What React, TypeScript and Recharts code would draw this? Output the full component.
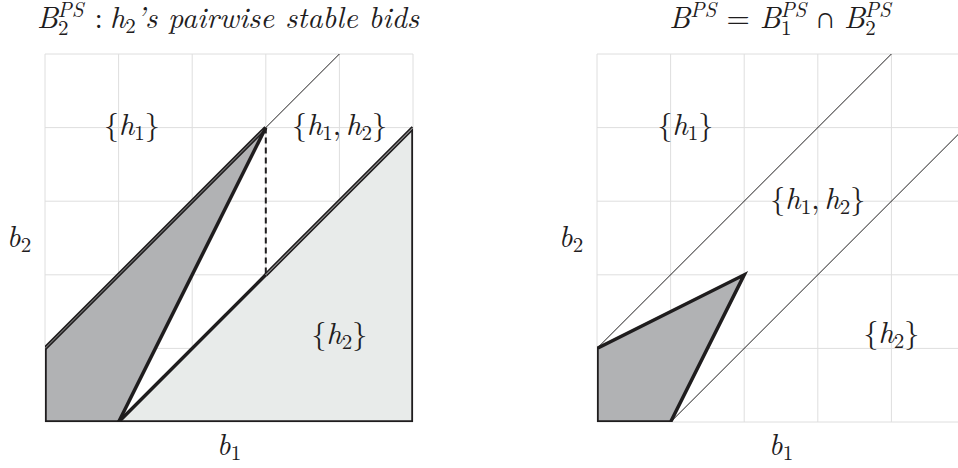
import React from "react";
import {
  Area,
  CartesianGrid,
  ComposedChart,
  Line,
  Scatter,
  XAxis,
  YAxis,
} from "recharts";

const TICKS = [0, 1, 2, 3, 4, 5];
const FONT = "Latin Modern Roman";
const FS = 30;
const SUB_FS = 21;
const SUB_DY = 5;

const INK = "#1f1d1e";
const DARK = "#b1b2b4";
const LIGHT = "#e8ebea";
const GRID = "#dedede";

// left panel: B2^PS
const leftDarkArea = [
  { x: 0, r: [0, 1] },
  { x: 1, r: [0, 2] },
  { x: 3, r: [4, 4] },
];
const leftLightArea = [
  { x: 1, r: [0, 0] },
  { x: 3, r: [0, 2] },
  { x: 5, r: [0, 4] },
];
const leftFrame = [
  { x: 0, y: 1 },
  { x: 0, y: 0 },
  { x: 5, y: 0 },
  { x: 5, y: 4 },
];
const leftUpperEdge = [
  { x: 0, y: 1 },
  { x: 3, y: 4 },
];
const leftSteepEdge = [
  { x: 3, y: 4 },
  { x: 1, y: 0 },
];
const leftLowerEdge = [
  { x: 1, y: 0 },
  { x: 3, y: 2 },
];
const leftLowerEdge2 = [
  { x: 3, y: 2 },
  { x: 5, y: 4 },
];
const leftDiagTail = [
  { x: 3, y: 4 },
  { x: 4, y: 5 },
];
const leftDashed = [
  { x: 3, y: 4 },
  { x: 3, y: 2 },
];
const leftLabels = [
  { x: 1.18, y: 4, set: [1] },
  { x: 4, y: 4, set: [1, 2] },
  { x: 4, y: 1.16, set: [2] },
];

// right panel: B^PS
const rightDarkArea = [
  { x: 0, r: [0, 1] },
  { x: 1, r: [0, 1.5] },
  { x: 2, r: [2, 2] },
];
const rightOutline = [
  { x: 0, y: 1 },
  { x: 0, y: 0 },
  { x: 1, y: 0 },
  { x: 2, y: 2 },
  { x: 0, y: 1 },
];
const rightUpperDiag = [
  { x: 0, y: 1 },
  { x: 4, y: 5 },
];
const rightLowerDiag = [
  { x: 1, y: 0 },
  { x: 5, y: 4 },
];
const rightLabels = [
  { x: 1.2, y: 4, set: [1] },
  { x: 3, y: 3, set: [1, 2] },
  { x: 4, y: 1.17, set: [2] },
];

const it = { fontStyle: "italic" } as const;
const up = { fontStyle: "normal" } as const;
const sm = { fontSize: SUB_FS } as const;

const SetLabel = (props: any) => {
  const { cx, cy, payload } = props;
  const items: React.ReactNode[] = [<tspan key="l">{"{"}</tspan>];
  payload.set.forEach((n: number, i: number) => {
    if (i > 0) items.push(<tspan key={"c" + i} dy={-SUB_DY}>{","}</tspan>);
    items.push(
      <tspan key={"h" + i} style={it} dx={i > 0 ? 5 : 0}>
        h
      </tspan>
    );
    items.push(
      <tspan key={"n" + i} style={sm} dy={SUB_DY}>
        {n}
      </tspan>
    );
  });
  items.push(
    <tspan key="r" dy={-SUB_DY}>
      {"}"}
    </tspan>
  );
  return (
    <text
      x={cx}
      y={cy + FS * 0.25}
      textAnchor="middle"
      style={{ fontFamily: FONT, fontSize: FS }}
      fill={INK}
    >
      {items}
    </text>
  );
};

const seg = (data: any[], key: string, width: number, color = INK, dash?: string) => (
  <Line
    key={key}
    data={data}
    dataKey="y"
    type="linear"
    stroke={color}
    strokeWidth={width}
    strokeDasharray={dash}
    strokeLinejoin="miter"
    dot={false}
    activeDot={false}
    isAnimationActive={false}
  />
);

export default function App() {
  return (
    <div
      style={{
        position: "absolute",
        left: 0,
        top: 0,
        width: 958,
        height: 468,
        overflow: "hidden",
        background: "#fff",
      }}
    >
      <div style={{ position: "absolute", left: 0, top: 0 }}>
        <ComposedChart width={480} height={468} margin={{ top: 54, left: 45, right: 67, bottom: 46 }}>
          <CartesianGrid stroke={GRID} />
          <XAxis type="number" dataKey="x" domain={[0, 5]} ticks={TICKS} hide allowDataOverflow />
          <YAxis type="number" dataKey="y" domain={[0, 5]} ticks={TICKS} hide allowDataOverflow />
          <Area data={leftLightArea} dataKey="r" type="linear" stroke="none" fill={LIGHT} fillOpacity={1} isAnimationActive={false} />
          <Area data={leftDarkArea} dataKey="r" type="linear" stroke="none" fill={DARK} fillOpacity={1} isAnimationActive={false} />
          {seg(leftDiagTail, "tail", 1)}
          {seg(leftDashed, "dash", 2, INK, "6 4")}
          {seg(leftFrame, "frame", 3.5)}
          {seg(leftUpperEdge, "up", 4)}
          {seg(leftUpperEdge, "up-in", 1, "#9a9a9a")}
          {seg(leftSteepEdge, "steep", 3.5)}
          {seg(leftLowerEdge, "low", 3.5)}
          {seg(leftLowerEdge2, "low2", 4)}
          {seg(leftLowerEdge2, "low2-in", 1, "#c8c8c8")}
          <Scatter data={leftLabels} dataKey="y" shape={SetLabel} isAnimationActive={false} />
        </ComposedChart>
      </div>
      <div style={{ position: "absolute", left: 480, top: 0 }}>
        <ComposedChart width={495} height={468} margin={{ top: 54, left: 117, right: 10, bottom: 46 }}>
          <CartesianGrid stroke={GRID} />
          <XAxis type="number" dataKey="x" domain={[0, 5]} ticks={TICKS} hide allowDataOverflow />
          <YAxis type="number" dataKey="y" domain={[0, 5]} ticks={TICKS} hide allowDataOverflow />
          <Area data={rightDarkArea} dataKey="r" type="linear" stroke="none" fill={DARK} fillOpacity={1} isAnimationActive={false} />
          {seg(rightUpperDiag, "ud", 1)}
          {seg(rightLowerDiag, "ld", 1)}
          {seg(rightOutline, "outline", 3.5)}
          <Scatter data={rightLabels} dataKey="y" shape={SetLabel} isAnimationActive={false} />
        </ComposedChart>
      </div>
      <svg
        width={958}
        height={468}
        style={{ position: "absolute", left: 0, top: 0, pointerEvents: "none", fontFamily: FONT, fontSize: FS }}
        fill={INK}
      >
        <text x={228} y={28} textAnchor="middle" style={it}>
          B
          <tspan style={{ ...up, ...sm }} dy={7}>2</tspan>
          <tspan style={sm} dx={-11} dy={-18}>PS</tspan>
          <tspan style={up} dy={11} dx={11}>:</tspan>
          <tspan dx={7}>h</tspan>
          <tspan style={{ ...up, ...sm }} dy={SUB_DY}>2</tspan>
          <tspan dy={-SUB_DY}>’s pairwise stable bids</tspan>
        </text>
        <text x={780} y={28} textAnchor="middle" style={it}>
          B
          <tspan style={sm} dy={-11}>PS</tspan>
          <tspan style={up} dy={11} dx={10}>=</tspan>
          <tspan dx={10}>B</tspan>
          <tspan style={{ ...up, ...sm }} dy={7}>1</tspan>
          <tspan style={sm} dx={-11} dy={-18}>PS</tspan>
          <tspan style={up} dy={11} dx={8}>∩</tspan>
          <tspan dx={8}>B</tspan>
          <tspan style={{ ...up, ...sm }} dy={7}>2</tspan>
          <tspan style={sm} dx={-11} dy={-18}>PS</tspan>
        </text>
        <text x={229} y={455} textAnchor="middle">
          <tspan style={it}>b</tspan>
          <tspan style={sm} dy={SUB_DY}>1</tspan>
        </text>
        <text x={19} y={247} textAnchor="middle">
          <tspan style={it}>b</tspan>
          <tspan style={sm} dy={SUB_DY}>2</tspan>
        </text>
        <text x={781} y={455} textAnchor="middle">
          <tspan style={it}>b</tspan>
          <tspan style={sm} dy={SUB_DY}>1</tspan>
        </text>
        <text x={571} y={247} textAnchor="middle">
          <tspan style={it}>b</tspan>
          <tspan style={sm} dy={SUB_DY}>2</tspan>
        </text>
      </svg>
    </div>
  );
}
